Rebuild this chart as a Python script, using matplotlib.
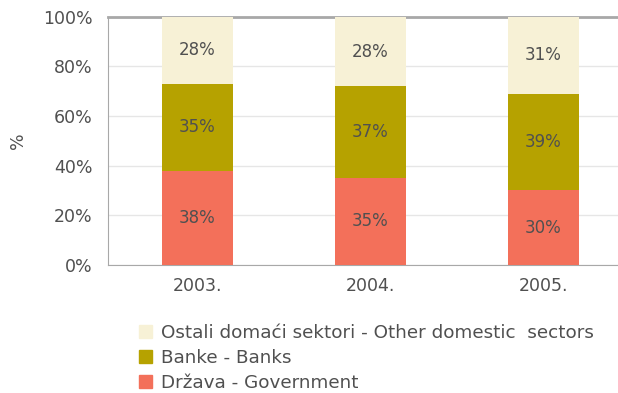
import numpy as np
import matplotlib.pyplot as plt
from matplotlib.patches import Patch

# share of holdings by sector, per year (%)
years = ["2003.", "2004.", "2005."]
government = [38, 35, 30]
banks = [35, 37, 39]
other = [28, 28, 31]

labels = ["Ostali domaći sektori - Other domestic  sectors",
          "Banke - Banks",
          "Država - Government"]
colors = ["#f7f1d6", "#b6a200", "#f3705a"]
text_col = "#505050"

fig = plt.figure(figsize=(6.18, 3.93), dpi=100)
ax = fig.add_axes([0.175, 0.326, 0.825, 0.631])

x = np.arange(len(years))
w = 0.41
b1 = ax.bar(x, government, w, color=colors[2], zorder=3)
b2 = ax.bar(x, banks, w, bottom=government, color=colors[1], zorder=3)
b3 = ax.bar(x, other, w, bottom=np.add(government, banks), color=colors[0], zorder=3)

for bars, vals in [(b1, government), (b2, banks), (b3, other)]:
    ax.bar_label(bars, labels=[f"{v}%" for v in vals], label_type="center",
                 color=text_col, fontsize=12, zorder=4)

ax.set_xlim(-0.515, 2.43)
ax.set_ylim(0, 100)
ax.set_xticks(x)
ax.set_xticklabels(years)
ax.set_yticks(range(0, 101, 20))
ax.set_yticklabels([f"{v}%" for v in range(0, 101, 20)])
ax.tick_params(length=0, colors=text_col, labelsize=12.5)
ax.tick_params(axis="y", pad=11)
ax.tick_params(axis="x", pad=9)
ax.set_ylabel("%", color=text_col, fontsize=12.5, labelpad=12)

ax.grid(axis="y", color="#e6e6e6", lw=1, zorder=0)
for s in ["left", "bottom", "top"]:
    ax.spines[s].set_color("#a8a8a8")
ax.spines["top"].set_linewidth(2)
ax.spines["right"].set_visible(False)

handles = [Patch(color=c) for c in colors]
fig.legend(handles, labels, loc="upper left", bbox_to_anchor=(0.225, 0.175),
           frameon=False, fontsize=13.2, labelcolor=text_col, handlelength=0.7,
           handleheight=0.7, handletextpad=0.5, labelspacing=0.38,
           borderaxespad=0, borderpad=0)

fig.savefig("out.png", dpi=100)
